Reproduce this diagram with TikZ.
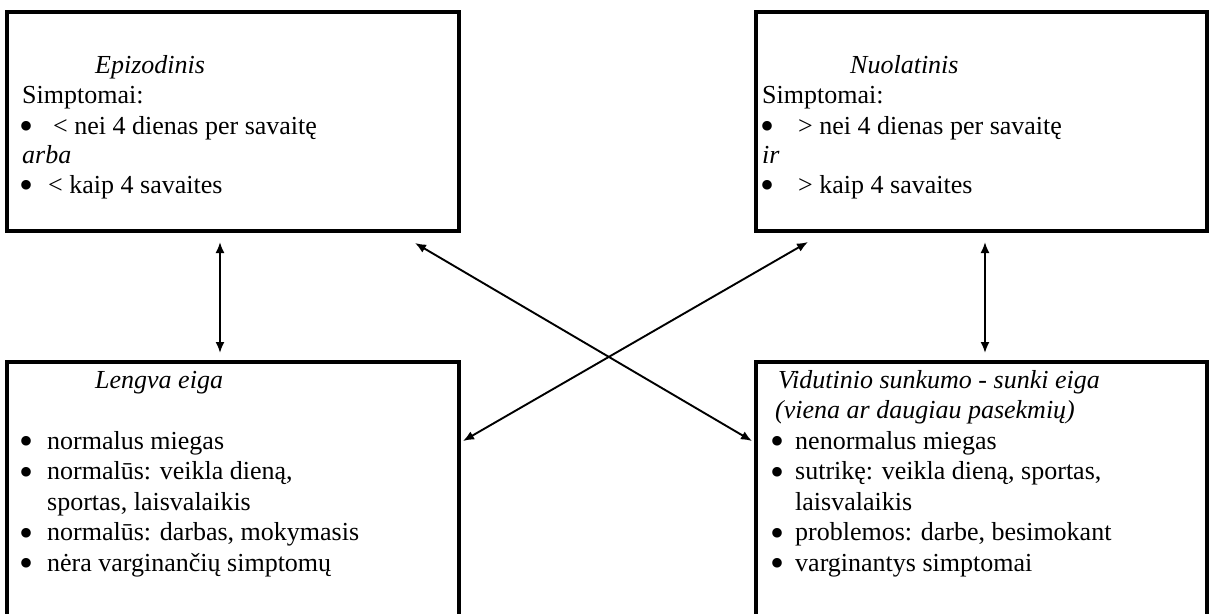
\documentclass[tikz,border=0pt]{standalone}
\usepackage{fontspec}
\setmainfont{Liberation Serif}
\usetikzlibrary{arrows.meta}
\tikzset{
  box/.style={draw=black, line width=3.5pt},
  txt/.style={anchor=base west, inner sep=0pt, font=\fontsize{26}{30}\selectfont},
  itxt/.style={txt, font=\fontsize{26}{30}\selectfont\itshape},
  bul/.style={anchor=base, inner sep=0pt, font=\fontsize{40}{40}\selectfont, yshift=-5.5pt, text height=17pt, text depth=-8pt},
  link/.style={line width=1.9pt, {Latex[length=11pt,width=9pt]}-{Latex[length=11pt,width=9pt]}}
}
\begin{document}
\begin{tikzpicture}[x=1pt,y=-1pt]
\useasboundingbox (0,0) rectangle (1212,613);
\clip (0,0) rectangle (1212,613);
% boxes
\draw[box] (7,12) rectangle (459,231);
\draw[box] (756,12) rectangle (1207,231);
\draw[box] (7,700) -- (7,362) -- (459,362) -- (459,700);
\draw[box] (756,700) -- (756,362) -- (1207,362) -- (1207,700);
% top-left text
\node[itxt] (tl1) at (95,73) {Epizodinis};
\node[txt] (tl2) at (22,103) {Simptomai:};
\node[bul] (tlb1) at (27,134) {•};
\node[txt] (tl3) at (53,134) {< nei 4 dienas per savaitę};
\node[itxt] (tl4) at (22,163) {arba};
\node[bul] (tlb2) at (27,193) {•};
\node[txt] (tl5) at (48,193) {< kaip 4 savaites};
% top-right text
\node[itxt] (tr1) at (850,73) {Nuolatinis};
\node[txt] (tr2) at (762,103) {Simptomai:};
\node[bul] (trb1) at (767,134) {•};
\node[txt] (tr3) at (798,134) {> nei 4 dienas per savaitę};
\node[itxt] (tr4) at (762,163) {ir};
\node[bul] (trb2) at (767,193) {•};
\node[txt] (tr5) at (798,193) {> kaip 4 savaites};
% bottom-left text
\node[itxt] (bl1) at (95,388) {Lengva eiga};
\node[bul] (blb1) at (27,449) {•};
\node[txt] (bl2) at (47,449) {normalus miegas};
\node[bul] (blb2) at (27,479.5) {•};
\node[txt] (bl3) at (47,479.5) {normalūs: veikla dieną,};
\node[txt] (bl4) at (47,510) {sportas, laisvalaikis};
\node[bul] (blb3) at (27,540.5) {•};
\node[txt] (bl5) at (47,540.5) {normalūs: darbas, mokymasis};
\node[bul] (blb4) at (27,571) {•};
\node[txt] (bl6) at (47,571) {nėra varginančių simptomų};
% bottom-right text
\node[itxt] (br1) at (778,388) {Vidutinio sunkumo - sunki eiga};
\node[itxt] (br2) at (775,418.5) {(viena ar daugiau pasekmių)};
\node[bul] (brb1) at (777,449) {•};
\node[txt] (br3) at (795,449) {nenormalus miegas};
\node[bul] (brb2) at (777,479.5) {•};
\node[txt] (br4) at (795,479.5) {sutrikę: veikla dieną, sportas,};
\node[txt] (br5) at (795,510) {laisvalaikis};
\node[bul] (brb3) at (777,540.5) {•};
\node[txt] (br6) at (795,540.5) {problemos: darbe, besimokant};
\node[bul] (brb4) at (777,571) {•};
\node[txt] (br7) at (795,571) {varginantys simptomai};
% connector ends
\coordinate (lvt) at (220,242);
\coordinate (lvb) at (220,353);
\coordinate (rvt) at (985,242);
\coordinate (rvb) at (985,353);
\coordinate (dat) at (415,243);
\coordinate (dab) at (752,441);
\coordinate (dbb) at (463,441);
\coordinate (dbt) at (808,242);
\draw[link] (lvt) -- (lvb);
\draw[link] (rvt) -- (rvb);
\draw[link] (dat) -- (dab);
\draw[link] (dbb) -- (dbt);
\end{tikzpicture}
\end{document}
